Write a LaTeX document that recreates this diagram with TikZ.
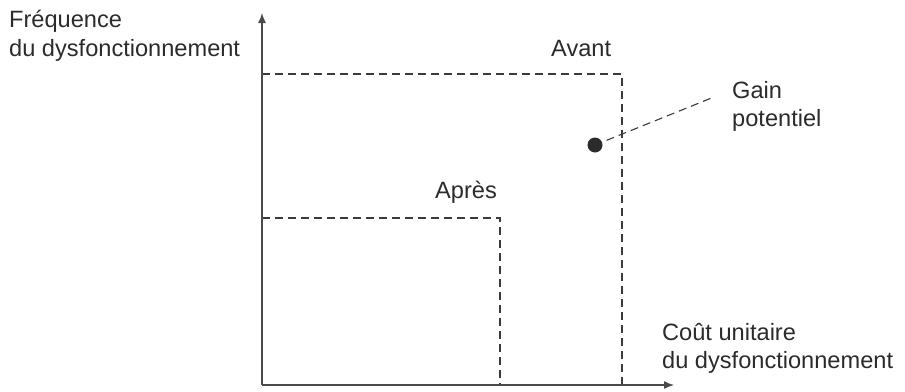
\documentclass[tikz,border=0pt]{standalone}
\usepackage{fontspec}
\setmainfont{Liberation Sans}
\usetikzlibrary{arrows.meta}
\definecolor{txt}{HTML}{2B2B2B}
\definecolor{axisc}{HTML}{4A4A4A}
\definecolor{dashc}{HTML}{3A3A3A}
\begin{document}
\begin{tikzpicture}[x=1pt,y=-1pt,
  lbl/.style={inner sep=0pt,anchor=base west,text=txt,font=\fontsize{23.6}{28}\selectfont},
  axisline/.style={draw=axisc,line width=1.4pt,-{Latex[length=10pt,width=8pt]}},
  dashline/.style={draw=dashc,line width=1.1pt,dash pattern=on 8pt off 5pt},
  dotnode/.style={circle,fill=txt,minimum size=15pt,inner sep=0pt,outer sep=5pt}]
\useasboundingbox (0,0) rectangle (905,391);
% axes
\coordinate (O) at (262,385);
\coordinate (ytop) at (262,13);
\coordinate (xend) at (674,385);
% boxes
\coordinate (avtl) at (262,74);
\coordinate (avtr) at (622,74);
\coordinate (avbr) at (622,385);
\coordinate (aptl) at (262,218);
\coordinate (aptr) at (500,218);
\coordinate (apbr) at (500,385);
\draw[dashline] (avtl) -- (avtr) -- (avbr);
\draw[dashline] (aptl) -- (aptr) -- (apbr);
\draw[axisline] (O) -- (ytop);
\draw[axisline] (O) -- (xend);
% dot and leader
\node[dotnode] (dot) at (595,145) {};
\coordinate (gainend) at (714,97);
\draw[dashline] (dot) -- (gainend);
% labels
\node[lbl] (yl1) at (9,27) {Fréquence};
\node[lbl] (yl2) at (9,56) {du dysfonctionnement};
\node[lbl] (avant) at (551,56) {Avant};
\node[lbl] (gain1) at (732,98) {Gain};
\node[lbl] (gain2) at (732,126) {potentiel};
\node[lbl] (apres) at (435,198) {Après};
\node[lbl] (xl1) at (662,340) {Coût unitaire};
\node[lbl] (xl2) at (662,368) {du dysfonctionnement};
\end{tikzpicture}
\end{document}
